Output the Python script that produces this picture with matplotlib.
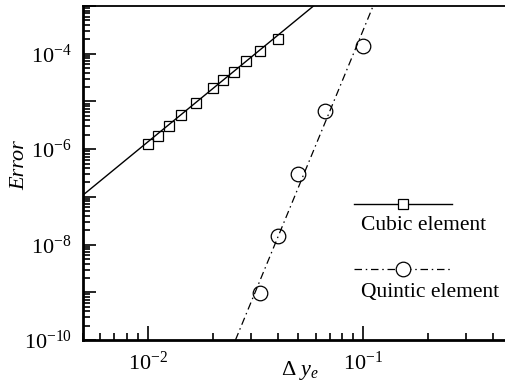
import numpy as np
import matplotlib
matplotlib.use("Agg")
import matplotlib.pyplot as plt
from matplotlib.ticker import FixedLocator, FuncFormatter, LogLocator, NullFormatter

plt.rcParams['font.family'] = ['Liberation Serif', 'DejaVu Serif']
plt.rcParams['mathtext.fontset'] = 'custom'
plt.rcParams['mathtext.rm'] = 'Liberation Serif'
plt.rcParams['mathtext.it'] = 'Liberation Serif:italic'

# Data
cubic_dy = [0.01, 0.0111, 0.0125, 0.0143, 0.0167, 0.02, 0.0222, 0.025, 0.0286, 0.0333, 0.04]
cubic_err = [1.28e-6, 1.89e-6, 3.07e-6, 5.23e-6, 9.36e-6, 1.93e-5, 2.84e-5, 4.19e-5, 7.13e-5, 1.16e-4, 2.07e-4]
cubic_fit_x = [0.005, 0.0587]
cubic_fit_y = [1.09e-7, 1e-3]

quintic_dy = [0.0333, 0.04, 0.05, 0.0667, 0.1]
quintic_err = [9.5e-10, 1.5e-8, 3.0e-7, 6.35e-6, 1.47e-4]
quintic_fit_x = [0.0255, 0.111]
quintic_fit_y = [1e-10, 1e-3]

labels = ["Cubic element", "Quintic element"]

W, H = 505, 384
fig = plt.figure(figsize=(W / 100, H / 100), dpi=100)
ax = fig.add_axes([83 / W, 1 - 340 / H, 422 / W, 334 / H])
ax.set_xscale('log')
ax.set_yscale('log')
ax.set_xlim(0.005, 0.4543)
ax.set_ylim(1e-10, 1e-3)

dashdot = (0, (6, 3, 1.2, 3))
ax.plot(cubic_fit_x, cubic_fit_y, color='black', lw=1.0)
ax.plot(cubic_dy, cubic_err, ls='none', marker='s', ms=7.5, mfc='none', mec='black', mew=0.9)
ax.plot(quintic_fit_x, quintic_fit_y, color='black', lw=0.9, ls=dashdot)
ax.plot(quintic_dy, quintic_err, ls='none', marker='o', ms=10.5, mfc='none', mec='black', mew=0.9)

# manual legend
tr = ax.transAxes
ax.plot([0.642, 0.874], [0.407, 0.407], color='black', lw=1.0, transform=tr, clip_on=False)
ax.plot([0.758], [0.407], marker='s', ms=7.5, mfc='white', mec='black', mew=0.9, transform=tr, clip_on=False)
ax.text(0.659, 0.344, labels[0], transform=tr, fontsize=15.5, va='center', ha='left')
ax.plot([0.642, 0.874], [0.213, 0.213], color='black', lw=0.9, ls=dashdot, transform=tr, clip_on=False)
ax.plot([0.758], [0.213], marker='o', ms=10.5, mfc='white', mec='black', mew=0.9, transform=tr, clip_on=False)
ax.text(0.659, 0.141, labels[1], transform=tr, fontsize=15.5, va='center', ha='left')

# spines
ax.spines['right'].set_visible(False)
ax.spines['left'].set_linewidth(2.0)
ax.spines['bottom'].set_linewidth(2.0)
ax.spines['top'].set_linewidth(1.3)

# ticks
ax.xaxis.set_major_locator(FixedLocator([1e-2, 1e-1]))
ax.xaxis.set_minor_locator(LogLocator(base=10, subs=np.arange(2, 10)))
ax.xaxis.set_minor_formatter(NullFormatter())
ax.xaxis.set_major_formatter(FuncFormatter(lambda v, p: r'$10^{%d}$' % round(np.log10(v))))

ax.yaxis.set_major_locator(FixedLocator([10.0 ** k for k in range(-10, -2)]))
ax.yaxis.set_minor_locator(LogLocator(base=10, subs=np.arange(2, 10), numticks=20))
ax.yaxis.set_minor_formatter(NullFormatter())
def yfmt(v, p):
    k = round(np.log10(v))
    return r'$10^{%d}$' % k if k % 2 == 0 else ''
ax.yaxis.set_major_formatter(FuncFormatter(yfmt))

ax.tick_params(which='both', direction='in', top=False, right=False, labelsize=16, width=1.2, color='black')
ax.tick_params(axis='x', which='major', length=10, pad=8)
ax.tick_params(axis='x', which='minor', length=5)
ax.tick_params(axis='y', which='major', length=9, pad=8)
ax.tick_params(axis='y', which='minor', length=5)

ax.set_ylabel('Error', fontsize=16, style='italic', va='center')
ax.yaxis.set_label_coords(-0.149, 0.524)
ax.set_xlabel(r'$\Delta\ y_e$', fontsize=16, va='center')
ax.xaxis.set_label_coords(0.515, -0.09)

fig.savefig('out.png', dpi=100)
